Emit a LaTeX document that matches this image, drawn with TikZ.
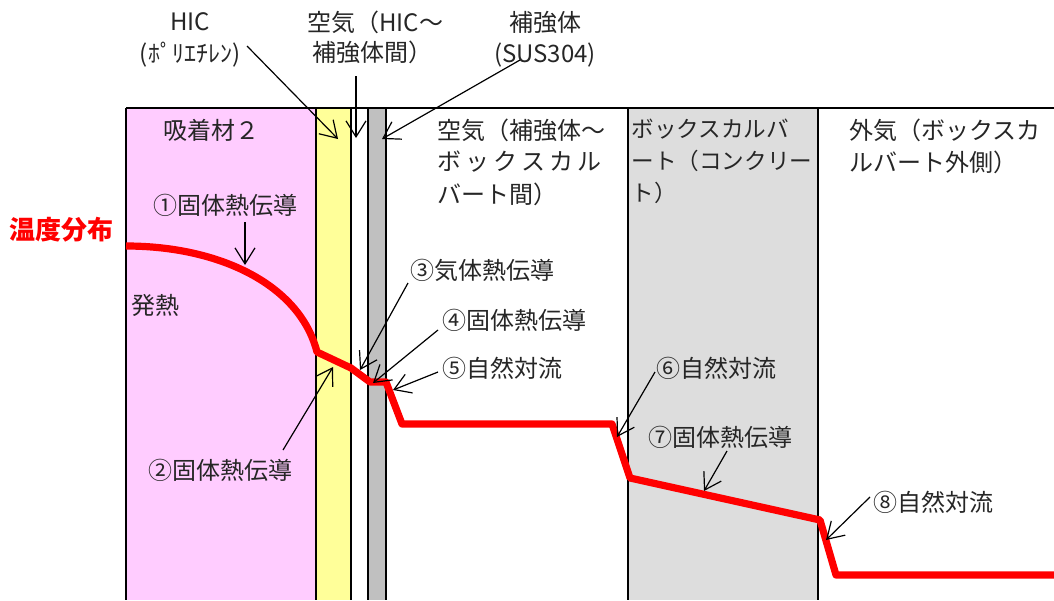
\documentclass[tikz,border=0pt]{standalone}
\usepackage{fontspec}
\setmainfont{Noto Sans CJK JP}
\usetikzlibrary{arrows.meta}
\definecolor{adsorb}{HTML}{FFCCFF}
\definecolor{hicfill}{HTML}{FFFF99}
\definecolor{susfill}{HTML}{C0C0C0}
\definecolor{concrete}{HTML}{DDDDDD}

\begin{document}
\begin{tikzpicture}[x=0.5pt,y=-0.5pt,
  wall/.style={draw=black,line width=0.8pt},
  lbl/.style={inner sep=0pt,font=\fontsize{12}{16}\selectfont,text=black!85},
  boxlbl/.style={lbl,anchor=west,font=\fontsize{11.3}{16}\selectfont},
  pt/.style={-{Straight Barb[length=8pt,width=10pt]},line width=0.6pt},
  temp/.style={red,line width=3.6pt,line join=round}]
		%%%%% START %%%%%
		\useasboundingbox (0,0) rectangle (1054,600);
		
		% layers
		\fill[adsorb] (126,108) rectangle (316,600);
		\fill[hicfill] (316,108) rectangle (351,600);
		\fill[susfill] (368,108) rectangle (386,600);
		\fill[concrete] (628,108) rectangle (818,600);
		\foreach \x in {126,316,351,368,386,628,818}
			\draw[wall] (\x,108) -- (\x,600);
		\draw[wall,line width=1.2pt] (126,108) -- (1054,108);
		
		% temperature profile
		\draw[temp] (126,246) .. controls (220,246) and (300,285) .. (317,352)
			-- (351,368) -- (370,382) -- (386,382) -- (402,424) -- (612,424)
			-- (630,478) -- (820,520) -- (836,575) -- (1054,575);
		\node[lbl,text=red,font=\fontsize{13}{14}\selectfont\bfseries] (tdist) at (62,230) {温度分布};
		
		% top labels
		\node[lbl] (hic) at (190,22) {HIC};
		\node[lbl] (pe) at (190,55) {(ﾎﾟﾘｴﾁﾚﾝ)};
		\node[lbl,anchor=west] (gap1) at (307,22) {空気（HIC～};
		\node[lbl,anchor=west] (gap2) at (312,52) {補強体間）};
		\node[lbl] (sus) at (545,22) {補強体};
		\node[lbl] (sus2) at (545,55) {(SUS304)};
		\coordinate (pe-t) at (247,46);
		\coordinate (pe-h) at (338,139);
		\coordinate (gap-t) at (356,76);
		\coordinate (gap-h) at (356,138);
		\coordinate (sus-t) at (520,60);
		\coordinate (sus-h) at (382,139);
		\draw[pt] (pe-t) -- (pe-h);
		\draw[pt] (gap-t) -- (gap-h);
		\draw[pt] (sus-t) -- (sus-h);
		
		% region labels
		\node[lbl,anchor=west] (ads) at (163,130) {吸着材２};
		\node[lbl,anchor=west] (air1) at (437,130) {空気（補強体～};
		\node[lbl,anchor=west] (air2) at (437,162) {ボ\kern2ptッ\kern2ptク\kern2ptス\kern2ptカ\kern2ptル};
		\node[lbl,anchor=west] (air3) at (437,194) {バート間）};
		\node[boxlbl] (box1) at (631,129) {ボックスカルバ};
		\node[boxlbl] (box2) at (631,161) {ート（コンクリー};
		\node[boxlbl] (box3) at (631,193) {ト）};
		\node[lbl,anchor=west] (out1) at (849,130) {外気（ボックスカ};
		\node[lbl,anchor=west] (out2) at (849,162) {ルバート外側）};
		\node[lbl,anchor=west] (heat) at (131,305) {発熱};
		
		% heat transfer labels
		\node[lbl] (q1) at (225,205) {①固体熱伝導};
		\node[lbl] (q2) at (220,470) {②固体熱伝導};
		\node[lbl,anchor=west] (q3) at (410,270) {③気体熱伝導};
		\node[lbl,anchor=west] (q4) at (442,320) {④固体熱伝導};
		\node[lbl,anchor=west] (q5) at (442,368) {⑤自然対流};
		\node[lbl,anchor=west] (q6) at (656,368) {⑥自然対流};
		\node[lbl,anchor=west] (q7) at (648,437) {⑦固体熱伝導};
		\node[lbl,anchor=west] (q8) at (873,502) {⑧自然対流};
		
		\coordinate (q1-t) at (245,222);
		\coordinate (q1-h) at (245,265);
		\coordinate (q2-t) at (283,450);
		\coordinate (q2-h) at (333,367);
		\coordinate (q3-t) at (408,283);
		\coordinate (q3-h) at (360,370);
		\coordinate (q4-t) at (438,330);
		\coordinate (q4-h) at (373,383);
		\coordinate (q5-t) at (438,372);
		\coordinate (q5-h) at (393,390);
		\coordinate (q6-t) at (655,372);
		\coordinate (q6-h) at (617,437);
		\coordinate (q7-t) at (727,451);
		\coordinate (q7-h) at (704,491);
		\coordinate (q8-t) at (870,497);
		\coordinate (q8-h) at (826,540);
		\foreach \i in {1,...,8}
			\draw[pt] (q\i-t) -- (q\i-h);
		
		%%%%% END %%%%%
\end{tikzpicture}
\end{document}
